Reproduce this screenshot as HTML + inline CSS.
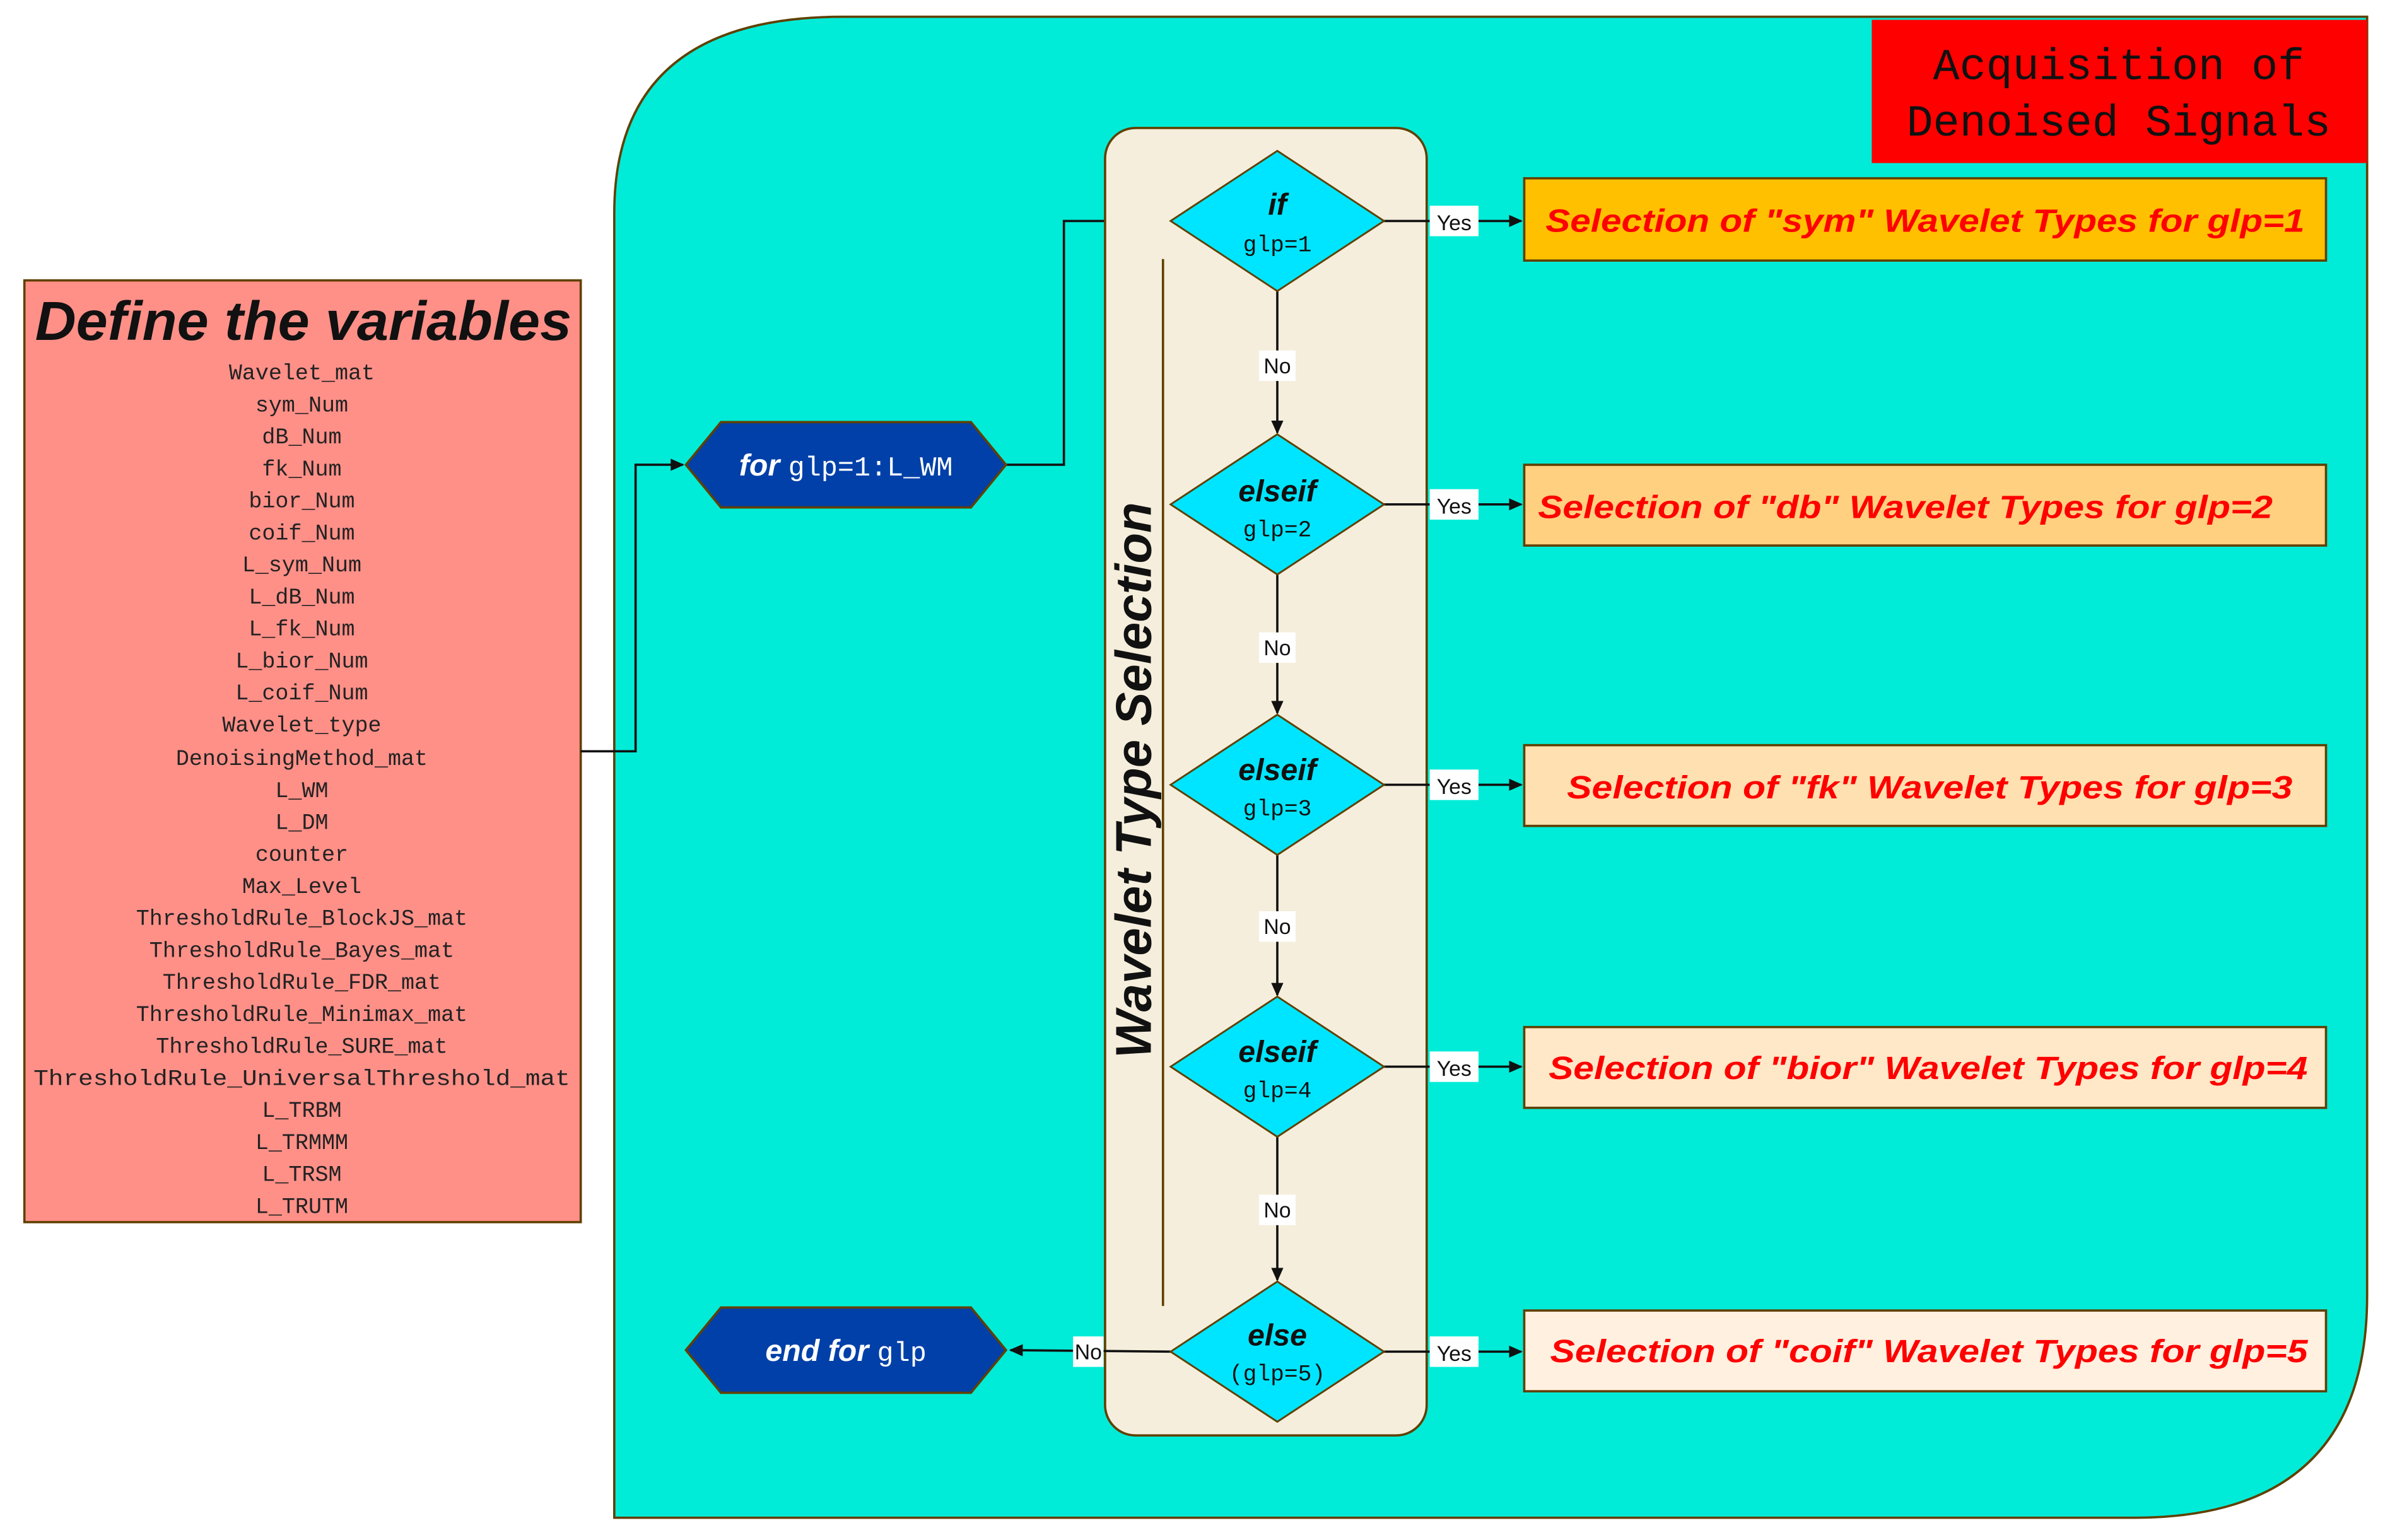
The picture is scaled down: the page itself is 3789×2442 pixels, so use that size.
<!DOCTYPE html>
<html><head><meta charset="utf-8"><style>
html,body{margin:0;padding:0;background:#fff;}
svg{display:block;}
.m{font-family:"Liberation Mono",monospace;}
.s{font-family:"Liberation Sans",sans-serif;}
</style></head><body>
<svg width="3789" height="2442" viewBox="0 0 1568 1010.6" preserveAspectRatio="none" xmlns="http://www.w3.org/2000/svg">
<defs>
<marker id="a" markerWidth="10" markerHeight="10" refX="8" refY="4" orient="auto" markerUnits="userSpaceOnUse">
<path d="M0,0 L9,4 L0,8 Z" fill="#111"/></marker>
</defs>
<!-- big cyan area -->
<path d="M403,996 L403,140 Q403,11 553,11 L1553,11 L1553,850 Q1553,996 1400,996 Z" fill="#00ecd8" stroke="#604000" stroke-width="1.5"/>
<!-- red title -->
<rect x="1228" y="13" width="325" height="94" fill="#ff0000"/>
<text class="m" x="1390" y="52" font-size="29" text-anchor="middle" fill="#111">Acquisition of</text>
<text class="m" x="1390" y="89" font-size="29" text-anchor="middle" fill="#111">Denoised Signals</text>
<!-- define box -->
<rect x="16" y="184" width="365" height="618" fill="#ff9088" stroke="#604000" stroke-width="1.5"/>
<text class="s" x="199" y="223" font-size="36" font-weight="bold" font-style="italic" text-anchor="middle" textLength="352" lengthAdjust="spacingAndGlyphs" fill="#111">Define the variables</text>
<g class="m" font-size="14.5" text-anchor="middle" fill="#222">
<text x="198" y="249">Wavelet_mat</text>
<text x="198" y="270">sym_Num</text>
<text x="198" y="291">dB_Num</text>
<text x="198" y="312">fk_Num</text>
<text x="198" y="333">bior_Num</text>
<text x="198" y="354">coif_Num</text>
<text x="198" y="375">L_sym_Num</text>
<text x="198" y="396">L_dB_Num</text>
<text x="198" y="417">L_fk_Num</text>
<text x="198" y="438">L_bior_Num</text>
<text x="198" y="459">L_coif_Num</text>
<text x="198" y="480">Wavelet_type</text>
<text x="198" y="502">DenoisingMethod_mat</text>
<text x="198" y="523">L_WM</text>
<text x="198" y="544">L_DM</text>
<text x="198" y="565">counter</text>
<text x="198" y="586">Max_Level</text>
<text x="198" y="607">ThresholdRule_BlockJS_mat</text>
<text x="198" y="628">ThresholdRule_Bayes_mat</text>
<text x="198" y="649">ThresholdRule_FDR_mat</text>
<text x="198" y="670">ThresholdRule_Minimax_mat</text>
<text x="198" y="691">ThresholdRule_SURE_mat</text>
<text x="198" y="712" textLength="352" lengthAdjust="spacingAndGlyphs">ThresholdRule_UniversalThreshold_mat</text>
<text x="198" y="733">L_TRBM</text>
<text x="198" y="754">L_TRMMM</text>
<text x="198" y="775">L_TRSM</text>
<text x="198" y="796">L_TRUTM</text>
</g>
<!-- connectors left -->
<polyline points="381,493 417,493 417,305 448,305" fill="none" stroke="#111" stroke-width="1.5" marker-end="url(#a)"/>
<polyline points="660,305 698,305 698,145 768,145" fill="none" stroke="#111" stroke-width="1.5" marker-end="url(#a)"/>
<!-- hexagons -->
<polygon points="450,305 473,277 637,277 660,305 637,333 473,333" fill="#0040a8" stroke="#604000" stroke-width="1.5"/>
<text x="555" y="312" text-anchor="middle" fill="#fff"><tspan class="s" font-size="20" font-weight="bold" font-style="italic">for </tspan><tspan class="m" font-size="18">glp=1:L_WM</tspan></text>
<polygon points="450,886 473,858 637,858 660,886 637,914 473,914" fill="#0040a8" stroke="#604000" stroke-width="1.5"/>
<text x="555" y="893" text-anchor="middle" fill="#fff"><tspan class="s" font-size="20" font-weight="bold" font-style="italic">end for </tspan><tspan class="m" font-size="18">glp</tspan></text>
<!-- beige panel -->
<rect x="725" y="84" width="211" height="858" rx="20" fill="#f5eedc" stroke="#604000" stroke-width="1.5"/>
<line x1="763" y1="170" x2="763" y2="857" stroke="#604000" stroke-width="1.5"/>
<text class="s" transform="translate(755,512) rotate(-90)" font-size="33" font-weight="bold" font-style="italic" text-anchor="middle" fill="#111">Wavelet Type Selection</text>
<!-- vertical No connectors -->
<g stroke="#111" stroke-width="1.5" marker-end="url(#a)">
<line x1="838" y1="191" x2="838" y2="284"/>
<line x1="838" y1="377" x2="838" y2="468"/>
<line x1="838" y1="561" x2="838" y2="653"/>
<line x1="838" y1="746" x2="838" y2="840"/>
<line x1="768" y1="887" x2="663" y2="886"/>
<line x1="908" y1="145" x2="998" y2="145"/>
<line x1="908" y1="331" x2="998" y2="331"/>
<line x1="908" y1="515" x2="998" y2="515"/>
<line x1="908" y1="700" x2="998" y2="700"/>
<line x1="908" y1="887" x2="998" y2="887"/>
</g>
<!-- diamonds -->
<g fill="#00e5ff" stroke="#604000" stroke-width="1.2">
<polygon points="838,99 908,145 838,191 768,145"/>
<polygon points="838,285 908,331 838,377 768,331"/>
<polygon points="838,469 908,515 838,561 768,515"/>
<polygon points="838,654 908,700 838,746 768,700"/>
<polygon points="838,841 908,887 838,933 768,887"/>
</g>
<g fill="#111" text-anchor="middle">
<text class="s" x="838" y="141" font-size="20" font-weight="bold" font-style="italic">if</text>
<text class="m" x="838" y="165" font-size="15">glp=1</text>
<text class="s" x="838" y="329" font-size="20" font-weight="bold" font-style="italic">elseif</text>
<text class="m" x="838" y="352" font-size="15">glp=2</text>
<text class="s" x="838" y="512" font-size="20" font-weight="bold" font-style="italic">elseif</text>
<text class="m" x="838" y="535" font-size="15">glp=3</text>
<text class="s" x="838" y="697" font-size="20" font-weight="bold" font-style="italic">elseif</text>
<text class="m" x="838" y="720" font-size="15">glp=4</text>
<text class="s" x="838" y="883" font-size="20" font-weight="bold" font-style="italic">else</text>
<text class="m" x="838" y="906" font-size="15">(glp=5)</text>
</g>
<!-- labels -->
<g fill="#fff">
<rect x="826" y="230" width="24" height="20"/><rect x="826" y="415" width="24" height="20"/>
<rect x="826" y="598" width="24" height="20"/><rect x="826" y="784" width="24" height="20"/>
<rect x="704" y="877" width="20" height="20"/>
<rect x="938" y="135" width="32" height="20"/><rect x="938" y="321" width="32" height="20"/>
<rect x="938" y="505" width="32" height="20"/><rect x="938" y="690" width="32" height="20"/>
<rect x="938" y="877" width="32" height="20"/>
</g>
<g class="s" font-size="14" fill="#111" text-anchor="middle">
<text x="838" y="245">No</text><text x="838" y="430">No</text><text x="838" y="613">No</text><text x="838" y="799">No</text>
<text x="714" y="892">No</text>
<text x="954" y="151">Yes</text><text x="954" y="337">Yes</text><text x="954" y="521">Yes</text><text x="954" y="706">Yes</text><text x="954" y="893">Yes</text>
</g>
<!-- result boxes -->
<g stroke="#604000" stroke-width="1.5">
<rect x="1000" y="117" width="526" height="54" fill="#ffc000"/>
<rect x="1000" y="305" width="526" height="53" fill="#ffd080"/>
<rect x="1000" y="489" width="526" height="53" fill="#ffe0b0"/>
<rect x="1000" y="674" width="526" height="53" fill="#ffe8c8"/>
<rect x="1000" y="860" width="526" height="53" fill="#fff0e0"/>
</g>
<g class="s" font-size="21" font-weight="bold" font-style="italic" fill="#ff0000">
<text x="1014" y="152" textLength="498" lengthAdjust="spacingAndGlyphs">Selection of "sym" Wavelet Types for glp=1</text>
<text x="1009" y="340" textLength="482" lengthAdjust="spacingAndGlyphs">Selection of "db" Wavelet Types for glp=2</text>
<text x="1028" y="524" textLength="476" lengthAdjust="spacingAndGlyphs">Selection of "fk" Wavelet Types for glp=3</text>
<text x="1016" y="708" textLength="498" lengthAdjust="spacingAndGlyphs">Selection of "bior" Wavelet Types for glp=4</text>
<text x="1017" y="894" textLength="497" lengthAdjust="spacingAndGlyphs">Selection of "coif" Wavelet Types for glp=5</text>
</g>
</svg>
</body></html>
